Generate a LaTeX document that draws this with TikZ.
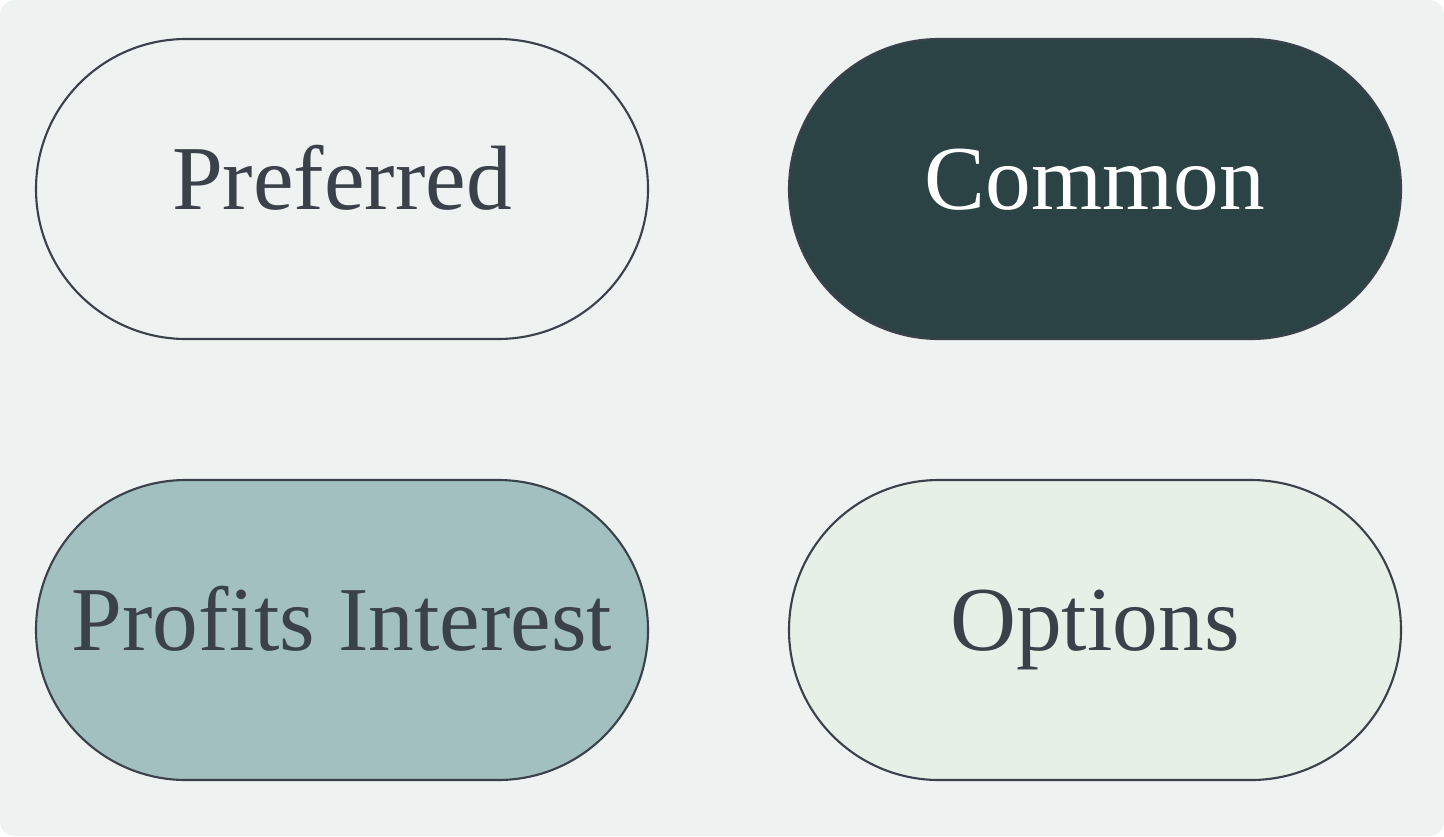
\documentclass[tikz,border=0pt]{standalone}
\usepackage{fontspec}
\setmainfont{Liberation Serif}
\definecolor{bgc}{HTML}{EEF2F1}
\definecolor{ink}{HTML}{3A414A}
\definecolor{dark}{HTML}{2C4345}
\definecolor{teal}{HTML}{A3C0C1}
\definecolor{mint}{HTML}{E7F0E6}
\tikzset{pill/.style = {draw=ink, line width=0.6pt, rectangle, rounded corners=1.5cm, minimum width=6.12cm, minimum height=3cm,
                        text=ink, text height=0.64cm, text depth=0.24cm, font=\fontsize{26}{30}\selectfont}}

\begin{document}
\begin{tikzpicture}
        \fill[bgc, rounded corners=0.15cm](0,0) rectangle (14.44,8.36);
        \useasboundingbox (0,0) rectangle (14.44,8.36);

        \node[pill, fill=bgc](pref)at(3.42,6.47){Preferred};
        \node[pill, fill=dark, text=white](comm)at(10.95,6.47){Common};

        \node[pill, fill=teal](prof)at(3.42,2.06){Profits Interest};
        \node[pill, fill=mint](opts)at(10.95,2.06){Options};
    \end{tikzpicture}
\end{document}
